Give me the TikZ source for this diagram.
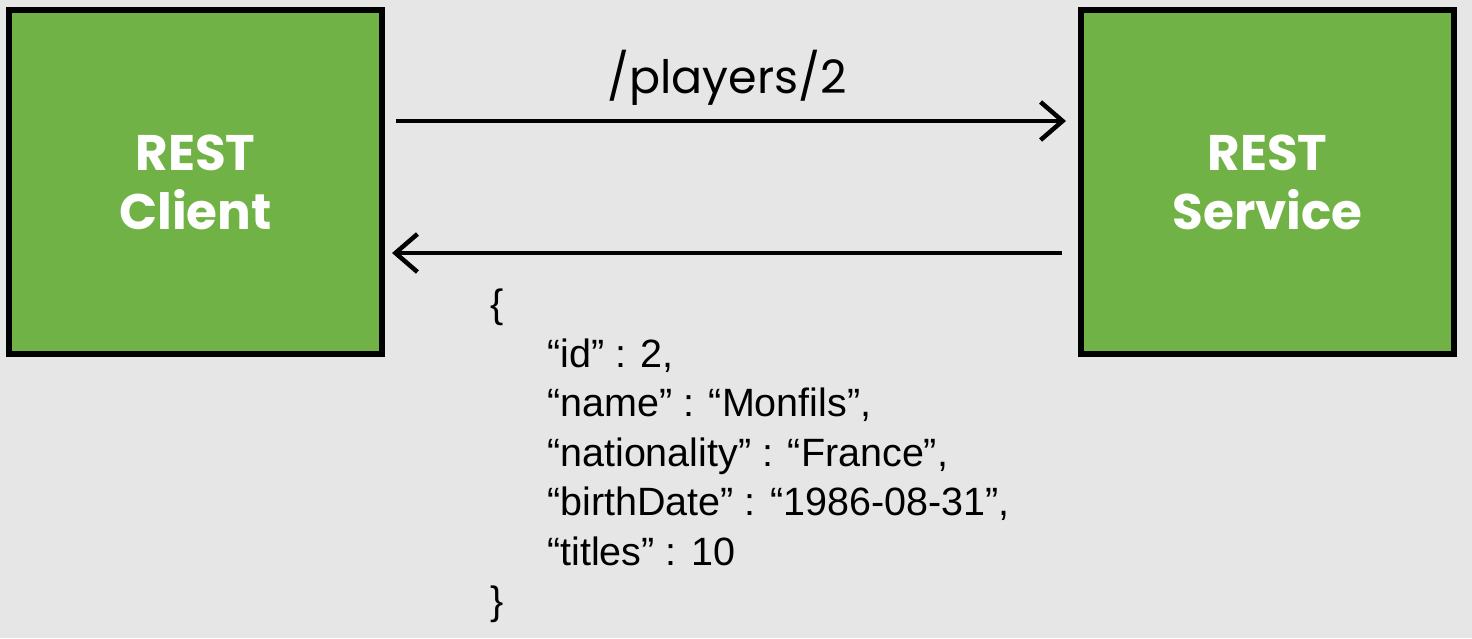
\documentclass[tikz,border=0pt]{standalone}
\usepackage{fontspec}
\setmainfont{Liberation Sans}
\newfontfamily\geo{Poppins}
\usetikzlibrary{arrows.meta}
\definecolor{bggray}{RGB}{230,230,230}
\definecolor{boxgreen}{RGB}{112,178,70}
\tikzset{
  svc/.style={draw=black, line width=6pt, fill=boxgreen, minimum width=373pt, minimum height=344pt,
    inner sep=0pt, align=center, text=white, font=\geo\bfseries\fontsize{50}{59}\selectfont},
  msg/.style={line width=4.5pt, -{Straight Barb[length=22pt,width=38pt]}},
  lbl/.style={font=\geo\fontsize{46}{50}\selectfont, inner sep=0pt},
  json/.style={font=\fontsize{39.5}{49}\selectfont, inner sep=0pt, anchor=base west}
}
\begin{document}
\begin{tikzpicture}[x=1pt,y=-1pt]
\fill[bggray] (0,0) rectangle (1472,638);
\node[svc] (client) at (195.5,182) {REST\\Client};
\node[svc] (service) at (1267.5,182) {REST\\Service};
\draw[msg] ([xshift=11pt,yshift=61pt]client.east) -- ([xshift=-12pt,yshift=61pt]service.west);
\draw[msg] ([xshift=-16pt,yshift=-71pt]service.west) -- ([xshift=7pt,yshift=-71pt]client.east);
\node[lbl, anchor=base] (path) at (727,93) {/players/2};
\node[json] (j0) at (490,317.5) {\{};
\node[json] (j1) at (547,367) {“id” : 2,};
\node[json] (j2) at (547,416.5) {“name” : “Monfils”,};
\node[json] (j3) at (547,466) {“nationality” : “France”,};
\node[json] (j4) at (547,515.5) {“birthDate” : “1986-08-31”,};
\node[json] (j5) at (547,565) {“titles” : 10};
\node[json] (j6) at (490,614.5) {\}};
\end{tikzpicture}
\end{document}
